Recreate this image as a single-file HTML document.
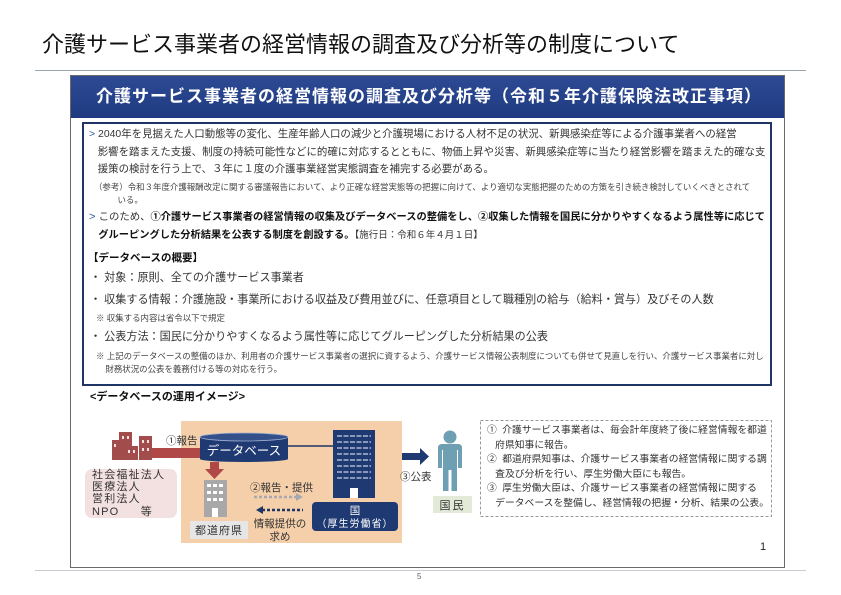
<!DOCTYPE html>
<html><head><meta charset="utf-8">
<style>
*{margin:0;padding:0;box-sizing:border-box}
body{width:841px;height:595px;background:#fff;position:relative;overflow:hidden;font-family:"Liberation Sans","Noto Sans CJK JP",sans-serif;color:#222}
.a{position:absolute;white-space:nowrap}
.t{font-size:11.1px;line-height:17.5px;color:#333}
.s{font-size:8.45px;line-height:12.5px;color:#444}
.b{font-weight:bold;color:#111;font-size:10.25px}
.d{font-size:9.8px;color:#333}
</style></head><body>
<div class="a" style="left:42px;top:31px;font-size:22px;line-height:28px;color:#111">介護サービス事業者の経営情報の調査及び分析等の制度について</div>
<div class="a" style="left:35px;top:70px;width:771px;height:1px;background:#9aa3b0"></div>

<div class="a" style="left:70px;top:75px;width:715px;height:493px;border:1.5px solid #6a6a6a"></div>
<div class="a" style="left:71px;top:76px;width:713px;height:42px;background:linear-gradient(#2d4a94,#1f3a80);color:#fff;font-size:17px;font-weight:bold;letter-spacing:1px;line-height:42px;padding-left:25px;overflow:hidden">介護サービス事業者の経営情報の調査及び分析等（令和５年介護保険法改正事項）</div>

<div class="a" style="left:82px;top:122px;width:690px;height:264px;border:2px solid #1f3566"></div>

<div class="a t" style="left:89px;top:126px;font-size:10.45px"><span style="color:#2c5aa0">&gt;</span> 2040年を見据えた人口動態等の変化、生産年齢人口の減少と介護現場における人材不足の状況、新興感染症等による介護事業者への経営<br>&nbsp;&nbsp; 影響を踏まえた支援、制度の持続可能性などに的確に対応するとともに、物価上昇や災害、新興感染症等に当たり経営影響を踏まえた的確な支<br>&nbsp;&nbsp; 援策の検討を行う上で、３年に１度の介護事業経営実態調査を補完する必要がある。</div>
<div class="a s" style="left:94px;top:181px">（参考）令和３年度介護報酬改定に関する審議報告において、より正確な経営実態等の把握に向けて、より適切な実態把握のための方策を引き続き検討していくべきとされて<br>&nbsp;&nbsp;&nbsp;&nbsp;&nbsp;&nbsp;&nbsp;&nbsp;&nbsp;&nbsp;いる。</div>
<div class="a t" style="left:89px;top:209px"><span style="color:#2c5aa0">&gt;</span> <span style="font-size:10.4px">このため、</span><b class="b">①介護サービス事業者の経営情報の収集及びデータベースの整備をし、②収集した情報を国民に分かりやすくなるよう属性等に応じて</b><br>&nbsp;&nbsp; <b class="b">グルーピングした分析結果を公表する制度を創設する。</b><span style="font-size:9.5px">【施行日：令和６年４月１日】</span></div>

<div class="a t" style="left:88px;top:250px;font-size:10.5px;font-weight:bold;color:#111">【データベースの概要】</div>
<div class="a t" style="left:90px;top:270px">・ 対象：原則、全ての介護サービス事業者</div>
<div class="a t" style="left:90px;top:292px">・ 収集する情報：介護施設・事業所における収益及び費用並びに、任意項目として職種別の給与（給料・賞与）及びその人数</div>
<div class="a s" style="left:96px;top:312px">※ 収集する内容は省令以下で規定</div>
<div class="a t" style="left:90px;top:329px">・ 公表方法：国民に分かりやすくなるよう属性等に応じてグルーピングした分析結果の公表</div>
<div class="a s" style="left:96px;top:350px">※ 上記のデータベースの整備のほか、利用者の介護サービス事業者の選択に資するよう、介護サービス情報公表制度についても併せて見直しを行い、介護サービス事業者に対し<br>&nbsp;&nbsp;&nbsp;&nbsp;財務状況の公表を義務付ける等の対応を行う。</div>

<div class="a" style="left:90px;top:388px;font-size:11px;font-weight:bold;color:#111">&lt;データベースの運用イメージ&gt;</div>

<div class="a" style="left:181px;top:421px;width:221px;height:122px;background:#f4cfa9"></div>
<div class="a" style="left:85px;top:469px;width:92px;height:49px;background:#f3e1e1;border-radius:7px"></div>
<div class="a" style="left:92px;top:469px;font-size:11px;line-height:12.2px;letter-spacing:1.2px;color:#333">社会福祉法人<br>医療法人<br>営利法人<br>NPO&nbsp;&nbsp;&nbsp;&nbsp;&nbsp;等</div>
<svg class="a" style="left:0;top:0" width="841" height="595">
 <g fill="#a24c4c">
  <rect x="112" y="440" width="11" height="20"/><rect x="119" y="432" width="13" height="28"/><rect x="125" y="446" width="13" height="14"/><rect x="139" y="436" width="13" height="24"/>
 </g>
 <g fill="#f3e1e1"><rect x="114" y="444" width="2" height="3"/><rect x="122" y="436" width="2" height="3"/><rect x="127" y="436" width="2" height="3"/><rect x="128" y="450" width="2" height="3"/><rect x="133" y="450" width="2" height="3"/><rect x="142" y="440" width="2" height="3"/><rect x="147" y="440" width="2" height="3"/><rect x="142" y="448" width="2" height="3"/><rect x="147" y="448" width="2" height="3"/></g>
 <rect x="152" y="448" width="50" height="10" fill="#b04848"/>
 <line x1="280" y1="446" x2="335" y2="446" stroke="#1f3566" stroke-width="1.5"/>
 <rect x="200" y="437" width="88" height="22" fill="#1f3a72"/>
 <ellipse cx="244" cy="459" rx="44" ry="3" fill="#1f3a72"/>
 <ellipse cx="244" cy="437" rx="44" ry="4" fill="#34508a" stroke="#9fb0d0" stroke-width="0.8"/>
 <text x="244" y="455" fill="#fff" font-size="12.5" text-anchor="middle" font-family="Liberation Sans,Noto Sans CJK JP,sans-serif">データベース</text>
 <rect x="210" y="462" width="9" height="8" fill="#b04848"/><polygon points="205,469 224,469 214.5,479" fill="#b04848"/>
 <rect x="204" y="480" width="23" height="37" fill="#a8a8a8"/>
 <g fill="#fff"><rect x="207" y="484" width="4" height="3"/><rect x="213" y="484" width="4" height="3"/><rect x="219" y="484" width="4" height="3"/><rect x="207" y="491" width="4" height="3"/><rect x="213" y="491" width="4" height="3"/><rect x="219" y="491" width="4" height="3"/><rect x="207" y="498" width="4" height="3"/><rect x="213" y="498" width="4" height="3"/><rect x="219" y="498" width="4" height="3"/><rect x="212" y="508" width="6" height="9"/></g>
 <rect x="190" y="521" width="58" height="18" fill="#e6e6e6"/>
 <text x="219" y="534" font-size="11" text-anchor="middle" fill="#333" letter-spacing="1" font-family="Liberation Sans,Noto Sans CJK JP,sans-serif">都道府県</text>
 <text x="250" y="491" font-size="10.5" fill="#333" font-family="Liberation Sans,Noto Sans CJK JP,sans-serif">②報告・提供</text>
 <line x1="254" y1="497" x2="296" y2="497" stroke="#a8a8b0" stroke-width="2.5" stroke-dasharray="3,2"/><polygon points="296,493 303,497 296,501" fill="#a8a8b0"/>
 <line x1="262" y1="510" x2="303" y2="510" stroke="#1f3566" stroke-width="2.5" stroke-dasharray="3,2"/><polygon points="263,506 256,510 263,514" fill="#1f3566"/>
 <text x="280" y="527" font-size="10.5" text-anchor="middle" fill="#333" font-family="Liberation Sans,Noto Sans CJK JP,sans-serif">情報提供の</text>
 <text x="280" y="540" font-size="10.5" text-anchor="middle" fill="#333" font-family="Liberation Sans,Noto Sans CJK JP,sans-serif">求め</text>
 <rect x="333" y="430" width="42" height="68" fill="#1f3a72"/>
 <g stroke="#c8d2e6" stroke-width="1.3" stroke-dasharray="5,1.5"><line x1="337" y1="436" x2="371" y2="436"/><line x1="337" y1="442" x2="371" y2="442"/><line x1="337" y1="448" x2="371" y2="448"/><line x1="337" y1="454" x2="371" y2="454"/><line x1="337" y1="460" x2="371" y2="460"/><line x1="337" y1="466" x2="371" y2="466"/><line x1="337" y1="472" x2="371" y2="472"/><line x1="337" y1="478" x2="371" y2="478"/></g>
 <rect x="350" y="488" width="8" height="10" fill="#fff"/>
 <rect x="312" y="502" width="86" height="29" rx="4" fill="#1f3a72"/>
 <text x="355" y="514" font-size="10.5" text-anchor="middle" fill="#fff" font-family="Liberation Sans,Noto Sans CJK JP,sans-serif">国</text>
 <text x="355" y="527" font-size="10" text-anchor="middle" fill="#fff" letter-spacing="1" font-family="Liberation Sans,Noto Sans CJK JP,sans-serif">（厚生労働省）</text>
 <text x="166" y="444" font-size="10.5" fill="#333" font-family="Liberation Sans,Noto Sans CJK JP,sans-serif">①報告</text>
 <rect x="402" y="453" width="19" height="7" fill="#1f3a72"/><polygon points="420,448 429,456.5 420,465" fill="#1f3a72"/>
 <text x="400" y="480" font-size="10.5" fill="#333" font-family="Liberation Sans,Noto Sans CJK JP,sans-serif">③公表</text>
 <g fill="#6e9fb3"><circle cx="450" cy="437" r="6.5"/><path d="M438,448 Q438,444 442,444 L458,444 Q462,444 462,448 L462,468 L458,468 L458,450 L457,450 L457,491 L451.5,491 L451.5,470 L448.5,470 L448.5,491 L443,491 L443,450 L442,450 L442,468 L438,468 Z"/></g>
 <rect x="433" y="496" width="39" height="17" fill="#e3ead8"/>
 <text x="452.5" y="509" font-size="11" text-anchor="middle" fill="#333" letter-spacing="2" font-family="Liberation Sans,Noto Sans CJK JP,sans-serif">国民</text>
 <rect x="480.5" y="420.5" width="291" height="96" fill="none" stroke="#999" stroke-dasharray="3,2"/>
</svg>
<div class="a d" style="left:487px;top:424px;line-height:14.6px">①&nbsp;&nbsp;介護サービス事業者は、毎会計年度終了後に経営情報を都道<br>&nbsp;&nbsp; 府県知事に報告。<br>②&nbsp;&nbsp;都道府県知事は、介護サービス事業者の経営情報に関する調<br>&nbsp;&nbsp; 査及び分析を行い、厚生労働大臣にも報告。<br>③&nbsp;&nbsp;厚生労働大臣は、介護サービス事業者の経営情報に関する<br>&nbsp;&nbsp; データベースを整備し、経営情報の把握・分析、結果の公表。</div>
<div class="a" style="left:760px;top:541px;font-size:11px;color:#222">1</div>
<div class="a" style="left:35px;top:570px;width:771px;height:1px;background:#c8ccd2"></div>
<div class="a" style="left:417px;top:572px;font-size:8px;color:#666">5</div>
</body></html>
